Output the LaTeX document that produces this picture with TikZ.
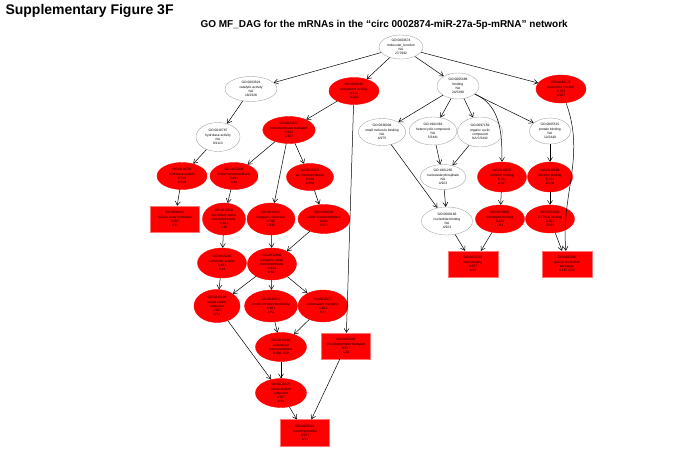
\documentclass[tikz,border=0pt]{standalone}
\usepackage{fontspec}
\setmainfont{Liberation Sans}
\usetikzlibrary{shapes.geometric,arrows.meta}
\tikzset{
    goterm/.style={ellipse, inner sep=0pt, minimum width=50pt, minimum height=28pt,
        align=center, font=\fontsize{3.3}{4.1}\selectfont},
    na/.style={goterm, draw=gray!70, fill=white, line width=0.4pt},
    sig/.style={goterm, draw=red, fill=red},
    leaf/.style={goterm, rectangle, draw=red!55, fill=red, minimum height=26pt},
    edge/.style={-{Straight Barb[length=4pt,width=5pt]}, black, line width=0.5pt}
}
\begin{document}
\begin{tikzpicture}[x=1pt,y=-1pt]
    \useasboundingbox (0,0) rectangle (697,448);
    \node[anchor=base west, font=\fontsize{14}{16}\selectfont\bfseries] (fig) at (2,14) {Supplementary Figure 3F};
    \node[anchor=base west, font=\fontsize{10}{12}\selectfont\bfseries] (title) at (197,27)
        {GO MF\_DAG for the mRNAs in the “circ 0002874-miR-27a-5p-mRNA” network};

    % level 1-3
    \node[na, minimum width=44pt, minimum height=24pt] (root) at (401,47) {GO:0003674\\molecular\_function\\NA\\27/7992};
    \node[na, minimum width=52pt, minimum height=25pt] (catal) at (251,89) {GO:0003824\\catalytic activity\\NA\\18/2328};
    \node[sig, minimum height=27pt] (transp) at (354,91) {GO:0005215\\transporter activity\\0.314\\2/400};
    \node[na, minimum width=42pt, minimum height=26pt] (bind) at (458,86) {GO:0005488\\binding\\NA\\24/5388};
    \node[sig] (mfreg) at (561,89) {GO:0098772\\molecular function\\0.723\\2/267};
    \node[na, minimum width=44pt, minimum height=29pt] (hydrol) at (218,137) {GO:0016787\\hydrolase activity\\NA\\8/1113};
    \node[sig, minimum height=27pt] (tmtrans) at (289,130) {GO:0022857\\transmembrane transport\\0.332\\1/367};
    \node[na, minimum width=46pt, minimum height=27pt] (smallmol) at (382,132) {GO:0036094\\small molecule binding\\NA\\4/975};
    \node[na, minimum width=47pt] (hetero) at (433,131) {GO:1901363\\heterocyclic compound\\NA\\5/3441};
    \node[na, minimum width=45pt, minimum height=30pt] (orgcyc) at (480,132) {GO:0097159\\organic cyclic\\compound\\NA 5/3442};
    \node[na, minimum width=41pt, minimum height=26pt] (protein) at (550,131) {GO:0005515\\protein binding\\NA\\12/2449};

    % level 4-5
    \node[sig, minimum height=27pt] (hydrolb) at (182,176) {GO:0016798\\hydrolase activity\\0.792\\1/216};
    \node[sig, minimum width=48pt, minimum height=27pt] (active) at (234,176) {GO:0022804\\active transmembrane\\0.401\\1/92};
    \node[sig, minimum width=47pt, minimum height=27pt] (iontm) at (310,177) {GO:0015075\\ion transmembrane\\0.506\\1/258};
    \node[na, minimum width=45pt, minimum height=25pt] (nucphos) at (443,177) {GO:1901265\\nucleoside phosphate\\NA\\4/923};
    \node[sig, minimum width=49pt, minimum height=30pt] (cofact) at (502,177) {GO:0048037\\cofactor binding\\0.401\\2/107};
    \node[sig, minimum width=45pt, minimum height=30pt] (enzyme) at (550,177) {GO:0019899\\enzyme binding\\0.401\\2/118};
    \node[leaf, minimum width=49pt] (sulfur) at (175,219) {GO:0008484\\sulfuric ester hydrolase\\0.567\\1/11};
    \node[sig, minimum width=43pt, minimum height=32pt] (second) at (224,219) {GO:0015291\\secondary active\\transmembrane\\0.401\\1/30};
    \node[sig, minimum width=48pt, minimum height=32pt] (inorgmol) at (271,219) {GO:0015318\\inorganic molecular\\0.792\\1/332};
    \node[sig, minimum width=52pt, minimum height=29pt] (cation) at (324,219) {GO:0008324\\cation transmembrane\\0.664\\1/121};
    \node[na, minimum width=51pt] (nucleot) at (447,221) {GO:0000166\\nucleotide binding\\NA\\4/923};
    \node[sig, minimum width=49pt] (coenz) at (500,219) {GO:0050662\\coenzyme binding\\0.420\\1/81};
    \node[sig, minimum width=49pt] (gtpase) at (550,219) {GO:0051020\\GTPase binding\\0.401\\2/103};

    % level 6-10
    \node[leaf] (nadbind) at (473,264) {GO:0051287\\NAD binding\\0.567\\1/13};
    \node[leaf] (guanyl) at (567,264) {GO:0005085\\guanyl-nucleotide\\exchange\\0.567 2/86};
    \node[sig, minimum width=49pt, minimum height=30pt] (sympo) at (222,263) {GO:0015293\\symporter activity\\0.401\\1/19};
    \node[sig, minimum width=49pt, minimum height=32pt] (inorgcat) at (272,264) {GO:0022890\\inorganic cation\\transmembrane\\0.420\\1/107};
    \node[sig, minimum width=46pt, minimum height=33pt] (solcat) at (217,306) {GO:0015294\\solute:cation\\symporter\\0.567\\1/14};
    \node[sig, minimum width=51pt, minimum height=32pt] (metal) at (271,306) {GO:0046873\\metal ion transmembrane\\0.401\\1/74};
    \node[sig, minimum width=50pt, minimum height=32pt] (monoval) at (323,306) {GO:0015077\\monovalent inorganic\\0.401\\1/71};
    \node[sig, minimum width=51pt, minimum height=29pt] (sodium) at (281,347) {GO:0015081\\sodium ion\\transmembrane\\0.401 1/20};
    \node[leaf, minimum width=49pt] (ntrans) at (346,346) {GO:0005326\\neurotransmitter transport\\0.567\\1/16};
    \node[sig, minimum width=51pt, minimum height=29pt] (solsod) at (281,393) {GO:0015370\\solute:sodium\\symporter\\0.567\\1/14};
    \node[leaf, minimum width=49pt, minimum height=27pt] (neurot) at (305,433) {GO:0005328\\neurotransmitter\\0.567\\1/14};

    \draw[edge] (root) -- (catal);
    \draw[edge] (root) -- (transp);
    \draw[edge] (root) -- (bind);
    \draw[edge] (root) -- (mfreg);
    \draw[edge] (catal) -- (hydrol);
    \draw[edge] (transp) -- (tmtrans);
    \draw[edge] (transp) -- (ntrans);
    \draw[edge] (bind) -- (smallmol);
    \draw[edge] (bind) -- (hetero);
    \draw[edge] (bind) -- (orgcyc);
    \draw[edge] (bind) to[out=-25,in=90] (cofact);
    \draw[edge] (bind) -- (protein);
    \draw[edge] (mfreg) to[out=-70,in=95] (guanyl);
    \draw[edge] (hydrol) -- (hydrolb);
    \draw[edge] (tmtrans) -- (active);
    \draw[edge] (tmtrans) -- (inorgmol);
    \draw[edge] (tmtrans) -- (iontm);
    \draw[edge] (smallmol) -- (nucleot);
    \draw[edge] (hetero) -- (nucphos);
    \draw[edge] (orgcyc) -- (nucphos);
    \draw[edge] (protein) -- (enzyme);
    \draw[edge] (hydrolb) -- (sulfur);
    \draw[edge] (active) -- (second);
    \draw[edge] (iontm) -- (cation);
    \draw[edge] (nucphos) -- (nucleot);
    \draw[edge] (cofact) -- (coenz);
    \draw[edge] (enzyme) -- (gtpase);
    \draw[edge] (second) -- (sympo);
    \draw[edge] (inorgmol) -- (inorgcat);
    \draw[edge] (cation) -- (inorgcat);
    \draw[edge] (nucleot) -- (nadbind);
    \draw[edge] (coenz) -- (nadbind);
    \draw[edge] (gtpase) -- (guanyl);
    \draw[edge] (sympo) -- (solcat);
    \draw[edge] (inorgcat) -- (solcat);
    \draw[edge] (inorgcat) -- (metal);
    \draw[edge] (inorgcat) -- (monoval);
    \draw[edge] (metal) -- (sodium);
    \draw[edge] (monoval) -- (sodium);
    \draw[edge] (solcat) -- (solsod);
    \draw[edge] (sodium) -- (solsod);
    \draw[edge] (solsod) -- (neurot);
    \draw[edge] (ntrans) -- (neurot);
\end{tikzpicture}
\end{document}
